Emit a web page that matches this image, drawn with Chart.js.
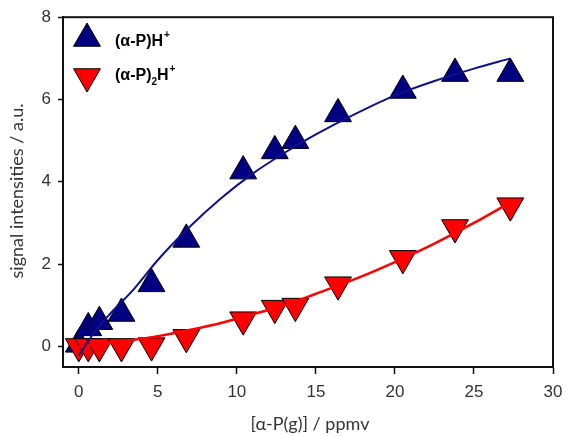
<!DOCTYPE html>
<html>
<head>
<meta charset="utf-8">
<script src="https://cdn.jsdelivr.net/npm/chart.js@4.4.0/dist/chart.umd.min.js"></script>
<style>
  html, body { margin: 0; padding: 0; background: #fff; }
  #wrap { width: 571px; height: 436px; }
</style>
</head>
<body>
<div id="wrap"><canvas id="chart" width="571" height="436"></canvas></div>
<script>
const concX = [0, 0.6, 1.3, 2.7, 4.6, 6.8, 10.4, 12.4, 13.7, 16.4, 20.5, 23.8, 27.3];
const monomerY = [0.05, 0.45, 0.6, 0.8, 1.52, 2.6, 4.26, 4.75, 5.0, 5.65, 6.22, 6.63, 6.63];
const dimerY = [0, 0, 0, 0, 0.02, 0.22, 0.65, 0.93, 0.98, 1.5, 2.14, 2.89, 3.42];

// fit curves
const fitX = [0, 1, 2, 3.5, 5, 7, 9, 11, 13, 15, 17.5, 20, 22.5, 25, 27.3];
const monomerFit = [-0.22, 0.35, 0.8, 1.4, 2.1, 2.9, 3.6, 4.2, 4.7, 5.15, 5.65, 6.1, 6.45, 6.75, 7.0];
const dimerFit = [0, 0.04, 0.08, 0.16, 0.25, 0.4, 0.57, 0.78, 1.0, 1.28, 1.64, 2.05, 2.5, 3.0, 3.5];

const xTicks = [0, 5, 10, 15, 20, 25, 30];
const yTicks = [0, 2, 4, 6, 8];

const BLUE = '#000080';
const RED = '#ff0000';

function pairs(xs, ys) {
    return xs.map((x, i) => ({ x: x, y: ys[i] }));
}

function triangle(ctx, x, y, r, down, fill) {
    const s = down ? -1 : 1;
    ctx.beginPath();
    ctx.moveTo(x, y - s * r);
    ctx.lineTo(x + r * 0.866, y + s * r * 0.5);
    ctx.lineTo(x - r * 0.866, y + s * r * 0.5);
    ctx.closePath();
    ctx.fillStyle = fill;
    ctx.fill();
    ctx.strokeStyle = '#000';
    ctx.lineWidth = 1;
    ctx.stroke();
}

// frame, legend and axis titles
const decor = {
    id: 'decor',
    afterDraw(chart) {
        const ctx = chart.ctx;
        const a = chart.chartArea;
        ctx.save();
        ctx.strokeStyle = '#111';
        ctx.lineWidth = 2;
        ctx.strokeRect(a.left, a.top, a.right - a.left, a.bottom - a.top);

        // legend
        triangle(ctx, 87, 38.5, 15.5, false, BLUE);
        triangle(ctx, 87, 76.5, 15.5, true, RED);
        const big = 'bold 16px "Liberation Sans", Arial, sans-serif';
        const small = 'bold 10px "Liberation Sans", Arial, sans-serif';
        ctx.fillStyle = '#000';
        ctx.textBaseline = 'alphabetic';
        ctx.textAlign = 'left';
        let x = 115;
        ctx.font = big;
        ctx.fillText('(α-P)H', x, 46);
        x += ctx.measureText('(α-P)H').width + 1;
        ctx.font = small;
        ctx.fillText('+', x, 38);

        x = 115;
        ctx.font = big;
        ctx.fillText('(α-P)', x, 80);
        x += ctx.measureText('(α-P)').width;
        ctx.font = small;
        ctx.fillText('2', x, 85);
        x += ctx.measureText('2').width;
        ctx.font = big;
        ctx.fillText('H', x, 80);
        x += ctx.measureText('H').width + 1;
        ctx.font = small;
        ctx.fillText('+', x, 72);

        // axis titles
        ctx.fillStyle = '#333';
        ctx.font = '18px Lato, "Open Sans", sans-serif';
        ctx.textAlign = 'center';
        ctx.textBaseline = 'middle';
        ctx.fillText('[α-P(g)] / ppmv', 310, 424);
        ctx.translate(17, 191);
        ctx.rotate(-Math.PI / 2);
        ctx.fillText('signal intensities / a.u.', 0, 0);
        ctx.restore();
    }
};

const tickFont = { family: '"Liberation Sans", Arial, sans-serif', size: 17 };

new Chart(document.getElementById('chart'), {
    type: 'scatter',
    data: {
        datasets: [
            {
                label: '(α-P)H+ fit',
                data: pairs(fitX, monomerFit),
                showLine: true,
                borderColor: '#10108a',
                borderWidth: 2,
                pointRadius: 0,
                cubicInterpolationMode: 'monotone',
                order: 0
            },
            {
                label: '(α-P)2H+ fit',
                data: pairs(fitX, dimerFit),
                showLine: true,
                borderColor: RED,
                borderWidth: 2.5,
                pointRadius: 0,
                cubicInterpolationMode: 'monotone',
                order: 1
            },
            {
                label: '(α-P)2H+',
                data: pairs(concX, dimerY),
                pointStyle: 'triangle',
                rotation: 180,
                pointRadius: 15.5,
                backgroundColor: RED,
                borderColor: '#000',
                borderWidth: 1,
                order: 2
            },
            {
                label: '(α-P)H+',
                data: pairs(concX, monomerY),
                pointStyle: 'triangle',
                pointRadius: 15.5,
                backgroundColor: BLUE,
                borderColor: '#000',
                borderWidth: 1,
                order: 3
            }
        ]
    },
    options: {
        responsive: false,
        animation: false,
        layout: { padding: { top: 15, right: 18, left: 0, bottom: 0 } },
        plugins: {
            legend: { display: false },
            tooltip: { enabled: false }
        },
        scales: {
            x: {
                type: 'linear',
                min: -1,
                max: 30,
                afterBuildTicks: s => { s.ticks = xTicks.map(v => ({ value: v })); },
                afterFit: s => { s.height = 69; },
                grid: { drawOnChartArea: false, tickLength: 7, color: '#111', tickWidth: 1.5 },
                border: { color: '#111', width: 2 },
                ticks: { font: tickFont, color: '#333', padding: 8, maxRotation: 0 }
            },
            y: {
                type: 'linear',
                min: -0.5,
                max: 8,
                afterBuildTicks: s => { s.ticks = yTicks.map(v => ({ value: v })); },
                afterFit: s => { s.width = 63; },
                grid: { drawOnChartArea: false, tickLength: 5, color: '#111', tickWidth: 1.5 },
                border: { color: '#111', width: 2 },
                ticks: { font: tickFont, color: '#333', padding: 7 }
            }
        }
    },
    plugins: [decor]
});
</script>
</body>
</html>
